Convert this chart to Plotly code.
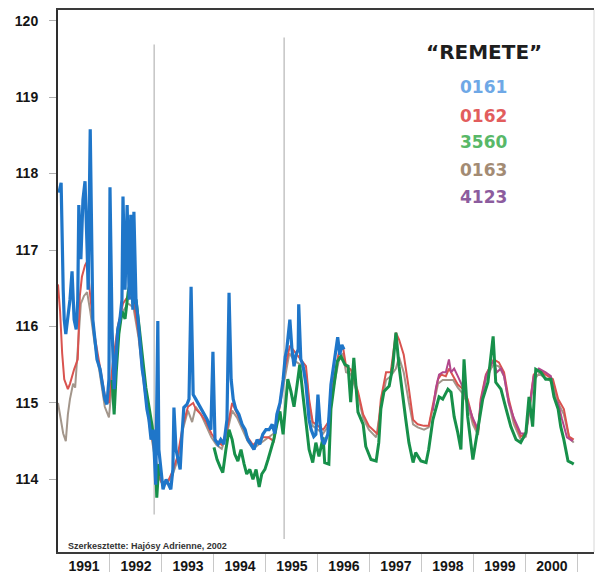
import plotly.graph_objects as go

# Well level readings, station "REMETE" (decimal year, level)
years_0161 = [1991.02, 1991.06, 1991.10, 1991.12, 1991.15, 1991.19, 1991.23, 1991.27, 1991.31, 1991.35,
              1991.38, 1991.40, 1991.44, 1991.48, 1991.52, 1991.56, 1991.58, 1991.62, 1991.65, 1991.67,
              1991.71, 1991.75, 1991.81, 1991.87, 1991.90, 1991.94, 1991.98, 1992.00, 1992.04, 1992.08,
              1992.12, 1992.15, 1992.19, 1992.23, 1992.25, 1992.29, 1992.33, 1992.37, 1992.40, 1992.44,
              1992.46, 1992.50, 1992.54, 1992.58, 1992.62, 1992.65, 1992.71, 1992.75, 1992.79, 1992.83,
              1992.87, 1992.88, 1992.92, 1992.94, 1992.98, 1993.02, 1993.08, 1993.13, 1993.17, 1993.21,
              1993.23, 1993.27, 1993.31, 1993.35, 1993.38, 1993.42, 1993.48, 1993.52, 1993.56, 1993.60,
              1993.65, 1993.71, 1993.75, 1993.81, 1993.87, 1993.90, 1993.94, 1993.98, 1994.02, 1994.08,
              1994.13, 1994.19, 1994.25, 1994.29, 1994.33, 1994.37, 1994.42, 1994.48, 1994.54, 1994.60,
              1994.65, 1994.71, 1994.77, 1994.83, 1994.88, 1994.94, 1995.00, 1995.06, 1995.12, 1995.17,
              1995.21, 1995.27, 1995.33, 1995.37, 1995.40, 1995.46, 1995.50, 1995.54, 1995.58, 1995.62,
              1995.63, 1995.67, 1995.71, 1995.77, 1995.83, 1995.87, 1995.92, 1995.96, 1996.00, 1996.04,
              1996.08, 1996.12, 1996.15, 1996.19, 1996.25, 1996.31, 1996.35, 1996.38, 1996.42, 1996.46,
              1996.50]
level_0161 = [117.75, 117.88, 116.48, 116.09, 115.90, 116.09, 116.35, 116.72, 116.09, 115.96,
              116.35, 117.59, 116.88, 117.66, 117.90, 117.01, 116.48, 118.58, 116.88, 116.09,
              115.83, 115.57, 115.44, 115.18, 115.05, 114.98, 115.31, 117.82, 115.96, 115.18,
              115.57, 115.96, 116.09, 116.35, 117.70, 116.48, 117.59, 116.35, 117.46, 116.22,
              117.50, 116.35, 116.09, 115.70, 115.44, 115.31, 114.92, 114.78, 114.52, 114.65,
              114.13, 113.93, 116.07, 114.39, 114.13, 113.87, 114.00, 113.93, 113.87, 114.13,
              114.94, 114.39, 114.26, 114.13, 114.52, 114.94, 114.98, 115.05, 116.52, 115.11,
              115.05, 114.98, 114.92, 114.85, 114.78, 114.72, 114.65, 115.67, 114.52, 114.46,
              114.52, 114.46, 114.78, 116.44, 115.31, 115.05, 114.92, 114.85, 114.72, 114.65,
              114.52, 114.46, 114.39, 114.52, 114.46, 114.59, 114.65, 114.65, 114.72, 114.60,
              114.85, 115.00, 115.30, 115.60, 115.70, 116.09, 115.70, 115.48, 115.63, 115.70,
              116.29, 115.57, 115.50, 115.24, 114.78, 114.65, 114.56, 114.59, 115.11, 114.72,
              114.52, 114.46, 114.52, 114.59, 115.24, 115.50, 115.70, 115.86, 115.63, 115.76,
              115.70]

years_0162 = [1991.00, 1991.04, 1991.08, 1991.12, 1991.19, 1991.23, 1991.31, 1991.38, 1991.42, 1991.46,
              1991.52, 1991.56, 1991.62, 1991.70, 1991.80, 1991.90, 1991.98, 1992.05, 1992.15, 1992.25,
              1992.35, 1992.45, 1992.55, 1992.65, 1992.75, 1992.85, 1992.92, 1993.00, 1993.10, 1993.20,
              1993.30, 1993.40, 1993.50, 1993.60, 1993.65, 1993.75, 1993.85, 1993.95, 1994.05, 1994.15,
              1994.25, 1994.35, 1994.45, 1994.55, 1994.65, 1994.75, 1994.85, 1994.94, 1995.05, 1995.15,
              1995.25, 1995.35, 1995.46, 1995.58, 1995.67, 1995.77, 1995.83, 1995.90, 1996.00, 1996.10,
              1996.20, 1996.30, 1996.40, 1996.48, 1996.54, 1996.63, 1996.77, 1996.87, 1996.98, 1997.12,
              1997.15, 1997.21, 1997.31, 1997.40, 1997.50, 1997.56, 1997.65, 1997.75, 1997.83, 1997.92,
              1998.04, 1998.13, 1998.23, 1998.31, 1998.37, 1998.46, 1998.52, 1998.60, 1998.69, 1998.79,
              1998.88, 1998.98, 1999.08, 1999.13, 1999.23, 1999.33, 1999.38, 1999.48, 1999.58, 1999.67,
              1999.77, 1999.90, 2000.00, 2000.15, 2000.25, 2000.38, 2000.52, 2000.62, 2000.73, 2000.83,
              2000.92]
level_0162 = [116.55, 116.20, 115.65, 115.31, 115.18, 115.25, 115.44, 115.57, 116.40, 116.65,
              116.80, 116.85, 116.40, 115.90, 115.50, 115.10, 115.00, 115.50, 116.00, 116.30,
              116.40, 116.35, 115.90, 115.30, 114.80, 114.40, 114.10, 113.95, 113.95, 114.10,
              114.30, 114.70, 114.95, 115.00, 114.92, 114.85, 114.75, 114.60, 114.50, 114.45,
              114.65, 115.00, 114.85, 114.70, 114.55, 114.45, 114.50, 114.55, 114.55, 114.50,
              114.90, 115.40, 115.75, 115.65, 115.57, 115.48, 115.05, 114.75, 114.70, 114.65,
              114.75, 115.30, 115.65, 115.74, 115.48, 115.44, 115.15, 114.85, 114.70, 114.60,
              114.59, 115.05, 115.40, 115.40, 115.92, 115.83, 115.63, 115.18, 114.78, 114.72,
              114.70, 114.70, 115.05, 115.31, 115.37, 115.35, 115.45, 115.35, 115.24, 115.18,
              115.05, 114.78, 114.61, 115.05, 115.37, 115.50, 115.57, 115.53, 115.40, 115.05,
              114.78, 114.56, 114.61, 115.37, 115.44, 115.37, 115.31, 115.05, 114.92, 114.56,
              114.52]

years_3560 = [1992.04, 1992.08, 1992.12, 1992.17, 1992.23, 1992.29, 1992.35, 1992.40, 1992.44, 1992.50,
              1992.56, 1992.62, 1992.69, 1992.75, 1992.81, 1992.87, 1992.90, 1992.94, 1992.98, None,
              1994.00, 1994.06, 1994.12, 1994.17, 1994.23, 1994.29, 1994.35, 1994.40, 1994.46, 1994.52,
              1994.58, 1994.63, 1994.69, 1994.75, 1994.81, 1994.87, 1994.92, 1994.98, 1995.04, 1995.10,
              1995.15, 1995.21, 1995.27, 1995.33, 1995.38, 1995.42, 1995.48, 1995.54, 1995.60, 1995.65,
              1995.71, 1995.77, 1995.83, 1995.90, 1995.96, 1996.02, 1996.10, 1996.13, 1996.21, 1996.25,
              1996.31, 1996.37, 1996.44, 1996.52, 1996.58, 1996.63, 1996.69, 1996.77, 1996.87, 1996.92,
              1997.02, 1997.12, 1997.17, 1997.21, 1997.27, 1997.37, 1997.44, 1997.50, 1997.56, 1997.63,
              1997.69, 1997.75, 1997.83, 1997.88, 1997.98, 1998.08, 1998.13, 1998.21, 1998.27, 1998.33,
              1998.40, 1998.50, 1998.56, 1998.62, 1998.69, 1998.75, 1998.81, 1998.88, 1998.98, 1999.08,
              1999.17, 1999.27, 1999.37, 1999.42, 1999.52, 1999.62, 1999.71, 1999.81, 1999.90, 2000.00,
              2000.06, 2000.13, 2000.19, 2000.29, 2000.38, 2000.48, 2000.54, 2000.62, 2000.67, 2000.73,
              2000.81, 2000.87, 2000.92]
level_3560 = [115.30, 114.85, 115.40, 115.90, 116.20, 116.10, 116.45, 116.60, 116.30, 116.35,
              116.00, 115.60, 115.20, 114.95, 114.70, 114.35, 113.76, 114.20, 114.05, None,
              114.42, 114.26, 114.16, 114.09, 114.39, 114.65, 114.52, 114.33, 114.24, 114.39,
              114.20, 114.07, 114.13, 114.00, 114.13, 113.90, 114.07, 114.13, 114.26, 114.39,
              114.52, 114.72, 114.89, 114.59, 115.05, 115.31, 115.15, 114.95, 115.24, 115.50,
              115.11, 114.72, 114.39, 114.22, 114.48, 114.30, 114.55, 114.22, 114.20, 114.92,
              115.27, 115.54, 115.61, 115.50, 115.48, 115.01, 115.59, 114.88, 114.72, 114.43,
              114.26, 114.24, 114.48, 114.92, 115.15, 115.22, 115.48, 115.92, 115.48, 115.08,
              114.78, 114.48, 114.22, 114.35, 114.24, 114.22, 114.39, 114.78, 114.95, 115.08,
              115.05, 115.18, 115.14, 114.82, 114.61, 114.39, 115.57, 114.82, 114.26, 114.69,
              115.05, 115.27, 115.87, 115.27, 115.18, 114.92, 114.69, 114.52, 114.48, 114.61,
              115.08, 114.69, 115.44, 115.40, 115.31, 115.31, 115.08, 114.92, 114.69, 114.52,
              114.24, 114.22, 114.20]

years_0163 = [1991.00, 1991.04, 1991.10, 1991.15, 1991.19, 1991.23, 1991.29, 1991.33, 1991.38, 1991.44,
              1991.50, 1991.56, 1991.62, 1991.70, 1991.80, 1991.90, 1991.98, 1992.06, 1992.15, 1992.25,
              1992.35, 1992.45, 1992.55, 1992.65, 1992.75, 1992.85, 1992.92, 1993.00, 1993.10, 1993.20,
              1993.30, 1993.40, 1993.50, 1993.58, 1993.65, 1993.75, 1993.85, 1993.95, 1994.05, 1994.15,
              1994.25, 1994.35, 1994.45, 1994.55, 1994.65, 1994.75, 1994.85, 1994.95, 1995.05, 1995.15,
              1995.25, 1995.35, 1995.45, 1995.55, 1995.67, 1995.77, 1995.83, 1995.90, 1996.00, 1996.10,
              1996.20, 1996.30, 1996.40, 1996.48, 1996.54, 1996.63, 1996.77, 1996.87, 1996.98, 1997.12,
              1997.21, 1997.31, 1997.40, 1997.50, 1997.56, 1997.65, 1997.75, 1997.83, 1997.92, 1998.04,
              1998.13, 1998.23, 1998.31, 1998.40, 1998.50, 1998.60, 1998.69, 1998.79, 1998.88, 1998.98,
              1999.08, 1999.13, 1999.23, 1999.33, 1999.38, 1999.48, 1999.58, 1999.67, 1999.77, 1999.90,
              2000.00, 2000.15, 2000.25, 2000.38, 2000.52, 2000.62, 2000.73, 2000.83, 2000.92]
level_0163 = [115.00, 114.85, 114.60, 114.50, 114.85, 115.05, 115.25, 115.20, 115.70, 116.30,
              116.40, 116.45, 116.20, 115.80, 115.40, 114.95, 114.81, 115.40, 115.90, 116.20,
              116.30, 116.25, 115.85, 115.25, 114.75, 114.35, 114.05, 113.95, 113.95, 114.05,
              114.25, 114.65, 114.90, 114.75, 114.95, 114.85, 114.70, 114.55, 114.45, 114.40,
              114.60, 114.90, 114.80, 114.65, 114.50, 114.40, 114.45, 114.50, 114.55, 114.60,
              114.90, 115.30, 115.65, 115.55, 115.50, 115.40, 115.00, 114.70, 114.65, 114.60,
              114.70, 115.20, 115.55, 115.65, 115.40, 115.38, 115.10, 114.80, 114.65, 114.55,
              114.95, 115.30, 115.35, 115.45, 115.60, 115.40, 115.00, 114.72, 114.68, 114.65,
              114.68, 114.98, 115.25, 115.30, 115.30, 115.30, 115.20, 115.12, 114.98, 114.72,
              114.58, 114.98, 115.30, 115.45, 115.50, 115.48, 115.35, 115.00, 114.72, 114.52,
              114.56, 115.30, 115.38, 115.33, 115.27, 115.00, 114.85, 114.55, 114.48]

years_4123 = [1998.21, 1998.27, 1998.33, 1998.40, 1998.46, 1998.52, 1998.56, 1998.62, 1998.69, 1998.79,
              1998.88, 1998.98, 1999.08, 1999.13, 1999.23, 1999.33, 1999.38, 1999.44, 1999.52, 1999.58,
              1999.67, 1999.77, 1999.90, 2000.00, 2000.15, 2000.25, 2000.38, 2000.48, 2000.56, 2000.62,
              2000.69, 2000.79, 2000.90]
level_4123 = [114.90, 115.20, 115.37, 115.40, 115.40, 115.57, 115.40, 115.45, 115.35, 115.20,
              115.00, 114.80, 114.65, 115.00, 115.35, 115.50, 115.55, 115.40, 115.45, 115.35,
              115.00, 114.80, 114.60, 114.60, 115.35, 115.45, 115.40, 115.35, 115.05, 115.00,
              114.80, 114.55, 114.50]

year_labels = ["1991", "1992", "1993", "1994", "1995", "1996", "1997", "1998", "1999", "2000"]
level_ticks = [114, 115, 116, 117, 118, 119, 120]

legend_names = ["0161", "0162", "3560", "0163", "4123"]
legend_colors = ["#6ea8e6", "#e25d5d", "#58b868", "#a38b74", "#8c5c9e"]

fig = go.Figure()

# drawing order: thin lines underneath, thick ones on top
series = [
    (years_0163, level_0163, "#a3968b", 2.0),
    (years_0162, level_0162, "#d9534f", 2.0),
    (years_4123, level_4123, "#b2478c", 2.0),
    (years_3560, level_3560, "#17904a", 3.0),
    (years_0161, level_0161, "#1f76c9", 3.2),
]
for xs, ys, color, width in series:
    fig.add_trace(go.Scatter(x=xs, y=ys, mode="lines",
                             line=dict(color=color, width=width),
                             connectgaps=False, showlegend=False))

# thin vertical marker lines
for x0, y_lo, y_hi in [(1992.85, 113.54, 119.69), (1995.35, 113.22, 119.78)]:
    fig.add_shape(type="line", x0=x0, x1=x0, y0=y_lo, y1=y_hi, xref="x", yref="y",
                  line=dict(color="#c4c4c4", width=1.5), layer="below")

# right frame edge
fig.add_shape(type="line", x0=1, x1=1, y0=0, y1=1, xref="paper", yref="paper",
              line=dict(color="#d6d6d6", width=1))

# canvas geometry (pixels)
W, H = 603, 573
ML, MR, MT, MB = 58, 9, 10, 21
pw, ph = W - ML - MR, H - MT - MB


def at(px, py):
    """Pixel position on the canvas -> paper coordinates of the plot area."""
    return (px - ML) / pw, 1 - (py - MT) / ph


# station title and colour key
tx, ty = at(484, 52)
fig.add_annotation(x=tx, y=ty, xref="paper", yref="paper", text="“REMETE”",
                   showarrow=False, xanchor="center", yanchor="middle",
                   font=dict(family="DejaVu Sans", size=20, color="#1e1e1e", weight="bold"))
key_y = [87, 116, 142, 170, 197]
for name, color, py in zip(legend_names, legend_colors, key_y):
    kx, ky = at(483, py)
    fig.add_annotation(x=kx, y=ky, xref="paper", yref="paper", text=name, showarrow=False,
                       xanchor="center", yanchor="middle",
                       font=dict(family="DejaVu Sans", size=17, color=color, weight="bold"))

fx, fy = at(66, 546)
fig.add_annotation(x=fx, y=fy, xref="paper", yref="paper",
                   text="Szerkesztette: Hajósy Adrienne, 2002", showarrow=False,
                   xanchor="left", yanchor="middle",
                   font=dict(family="Liberation Sans", size=9, color="#333", weight="bold"))

fig.update_layout(
    width=W, height=H,
    margin=dict(l=ML, r=MR, t=MT, b=MB),
    paper_bgcolor="white", plot_bgcolor="white",
    xaxis=dict(
        range=[1991.0, 2001.31],
        automargin=False,
        tickmode="array",
        tickvals=[int(y) + 0.5 for y in year_labels],
        ticktext=year_labels,
        ticks="", showgrid=False, zeroline=False,
        showline=True, linecolor="#3a3a3a", linewidth=1.5, mirror=True,
        tickfont=dict(family="Liberation Sans", size=14, color="#151515", weight="bold"),
        minor=dict(tickmode="array", tickvals=[int(y) + 1 for y in year_labels],
                   ticks="outside", ticklen=18, tickcolor="#c8c8c8", tickwidth=1),
    ),
    yaxis=dict(
        range=[113.05, 120.14],
        automargin=False,
        tickmode="array", tickvals=level_ticks,
        ticks="outside", ticklen=7, tickcolor="#b0b0b0", tickwidth=1,
        ticklabelstandoff=8,
        showgrid=False, zeroline=False,
        showline=True, linecolor="#2e2e2e", linewidth=2,
        tickfont=dict(family="Liberation Sans", size=14, color="#151515", weight="bold"),
    ),
)

fig.write_html("out.html")
